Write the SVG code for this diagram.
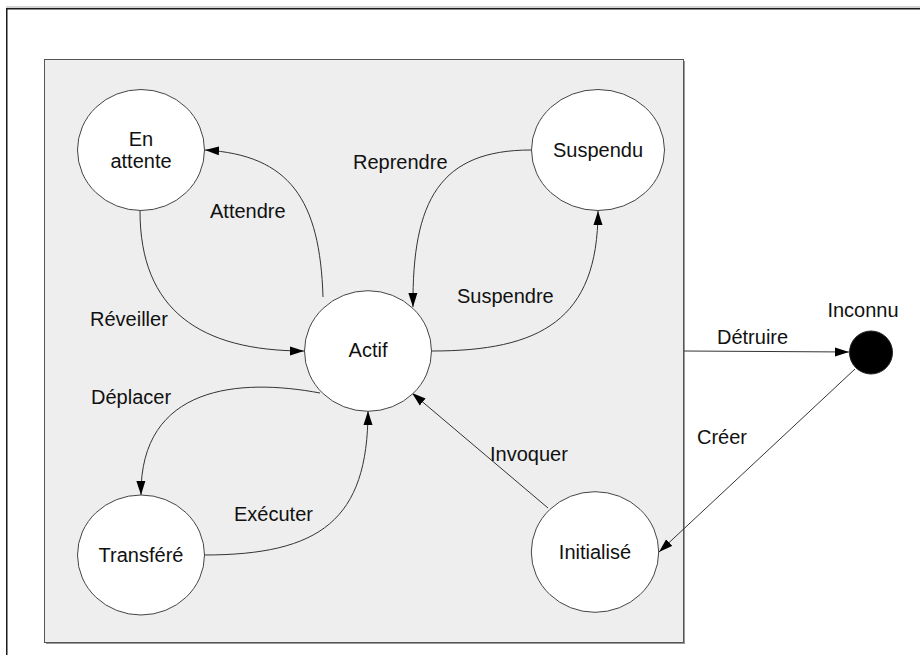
<svg xmlns="http://www.w3.org/2000/svg" width="920" height="655" viewBox="0 0 920 655">
  <style>
    .state { fill: #ffffff; stroke: #444444; stroke-width: 1; }
    .final { fill: #000000; stroke: #222222; stroke-width: 1; }
    .lbl { font-family: "Liberation Sans", Arial, sans-serif; font-size: 20px; fill: #111111; }
    .mid { text-anchor: middle; }
    .edge { fill: none; stroke: #333333; stroke-width: 1; marker-end: url(#arrow); }
  </style>
  <defs>
    <marker id="arrow" markerWidth="14" markerHeight="10" refX="14" refY="5" orient="auto" markerUnits="userSpaceOnUse">
      <path d="M0,0.5 L14,5 L0,9.5 Z" fill="#000000"/>
    </marker>
  </defs>

  <rect width="920" height="655" fill="#ffffff"/>

  <!-- page frame -->
  <line x1="6" y1="7" x2="920" y2="7" stroke="#aaaaaa" stroke-width="1"/>
  <rect x="6.75" y="8.75" width="1000" height="1000" fill="none" stroke="#1a1a1a" stroke-width="1.5"/>

  <!-- system boundary -->
  <rect x="46" y="61" width="639" height="583" fill="#9a9a9a"/>
  <rect x="44.5" y="59.5" width="639" height="583" fill="#eeeeee" stroke="#555555" stroke-width="1"/>

  <g id="connectors">
    <!-- Attendre -->
    <path class="edge" d="M323,297 C320,200 290,155 205,150"/>
    <!-- Réveiller -->
    <path class="edge" d="M140,211 C140,310 200,351 304,351"/>
    <!-- Reprendre -->
    <path class="edge" d="M531,150 C440,150 412,200 413,307"/>
    <!-- Suspendre -->
    <path class="edge" d="M432,351 C540,351 598,320 598,211"/>
    <!-- Déplacer -->
    <path class="edge" d="M320,393 C240,378 140,385 141,495"/>
    <!-- Exécuter -->
    <path class="edge" d="M204,555 C320,555 368,520 368,411"/>
    <!-- Invoquer -->
    <path class="edge" d="M548,508 L412,393"/>
    <!-- Détruire -->
    <path class="edge" d="M684,351 L849,352"/>
    <!-- Créer -->
    <path class="edge" d="M855,369 L659,552"/>

    <text class="lbl" x="210" y="218">Attendre</text>
    <text class="lbl" x="90" y="326">Réveiller</text>
    <text class="lbl" x="353" y="169">Reprendre</text>
    <text class="lbl" x="457" y="303">Suspendre</text>
    <text class="lbl" x="91" y="404">Déplacer</text>
    <text class="lbl" x="234" y="521">Exécuter</text>
    <text class="lbl" x="490" y="461">Invoquer</text>
    <text class="lbl" x="717" y="344">Détruire</text>
    <text class="lbl" x="697" y="444">Créer</text>
  </g>

  <g id="en-attente">
    <ellipse class="state" cx="141" cy="150" rx="63.5" ry="60.5"/>
    <text class="lbl mid" x="141" y="146">En</text>
    <text class="lbl mid" x="141" y="168">attente</text>
  </g>

  <g id="suspendu">
    <ellipse class="state" cx="598" cy="150" rx="66.5" ry="60.5"/>
    <text class="lbl mid" x="598" y="157">Suspendu</text>
  </g>

  <g id="actif">
    <ellipse class="state" cx="368" cy="351" rx="63.5" ry="60.3"/>
    <text class="lbl mid" x="368" y="357">Actif</text>
  </g>

  <g id="transfere">
    <ellipse class="state" cx="141" cy="555" rx="63.5" ry="60"/>
    <text class="lbl mid" x="141" y="562">Transféré</text>
  </g>

  <g id="initialise">
    <ellipse class="state" cx="595" cy="552" rx="63.7" ry="60.3"/>
    <text class="lbl mid" x="595" y="559">Initialisé</text>
  </g>

  <g id="inconnu">
    <circle class="final" cx="871" cy="352.5" r="21.5"/>
    <text class="lbl mid" x="863" y="317">Inconnu</text>
  </g>
</svg>
